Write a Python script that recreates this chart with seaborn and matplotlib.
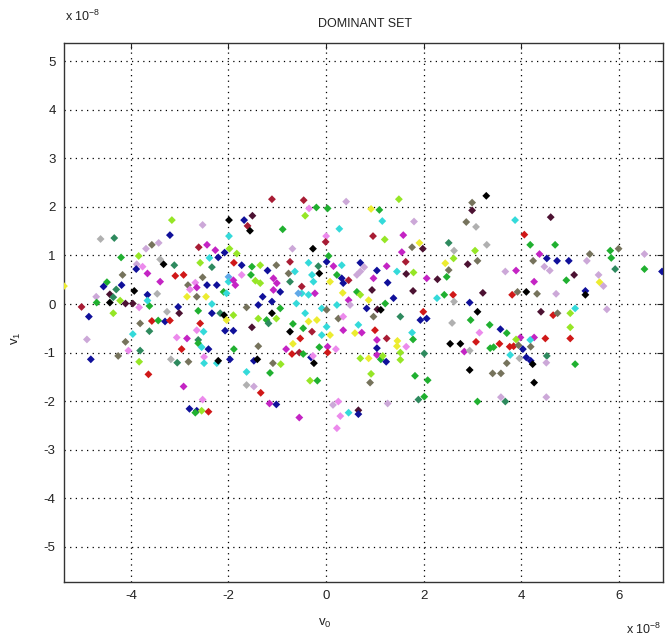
import matplotlib
matplotlib.use("Agg")
import matplotlib.pyplot as plt
import seaborn as sns
import pandas as pd

# values in units of 1e-8
v0 = [
 -3.16,-2.53,-1.99,-1.68,-1.51,-1.61,-1.56,-4.62,-4.34,-3.20,-1.99,-3.57,-3.43,-3.69,-2.61,-2.44,-2.27,-2.08,-1.98,-1.83,
 -1.11,-0.46,-0.35,-0.20,0.03,0.41,1.49,0.92,1.09,-0.43,1.15,1.80,-0.89,0.27,0.00,-0.01,0.96,1.20,1.58,1.91,1.76,1.98,2.51,2.62,-0.69,-0.27,1.55,
 3.28,2.99,2.99,2.87,3.07,3.87,4.60,4.06,4.18,4.69,4.37,3.05,3.29,5.40,5.82,5.99,6.52,5.84,
 -5.37,-4.20,-3.84,-3.88,-3.89,-3.76,-3.66,-3.40,-3.33,-3.11,-4.17,-4.49,-4.56,-4.19,-4.30,-4.71,-4.43,-4.36,-4.43,-4.22,
 -4.11,-3.96,-3.93,-4.70,-5.01,-4.86,-4.36,-3.83,-3.66,-3.46,-3.62,-3.66,-3.81,-3.57,-3.44,-3.30,-3.20,-3.26,-3.03,-3.01,
 -3.62,-3.96,-3.40,-3.09,-2.92,-2.83,-2.68,-2.65,-2.79,-2.53,-2.58,-2.39,-2.34,-2.21,-2.44,-2.24,-2.10,-2.04,-2.46,-2.65,
 -2.85,-2.34,-2.62,-2.34,-2.17,-2.09,-2.00,-2.00,-1.90,-1.86,-1.89,-1.73,-1.52,-1.35,-1.73,-1.54,-1.45,-1.35,-1.30,-1.63,
 -1.39,-1.39,-1.52,-2.07,-1.90,-1.90,-2.04,-2.58,-2.65,-2.51,-3.06,-2.85,-2.62,-4.90,-4.11,
 -0.74,-1.02,-1.20,-0.36,-0.16,0.01,0.05,0.15,0.32,0.70,0.78,0.70,1.04,1.24,1.63,2.44,2.61,2.51,1.45,1.64,1.79,2.06,2.28,2.47,
 -1.08,-1.01,-0.94,-1.08,-0.74,-0.77,-0.64,-0.50,-0.29,-0.26,-0.14,0.08,0.22,0.35,0.46,0.32,0.63,0.97,1.26,
 -0.50,-0.57,-0.36,-0.23,-1.11,-0.61,0.34,0.46,0.63,0.70,0.94,0.87,1.21,1.38,1.78,2.27,2.42,2.60,2.62,
 -0.09,0.01,0.22,0.49,0.83,1.05,1.12,0.97,0.25,0.35,1.99,1.93,2.06,1.52,2.58,
 -1.11,-0.94,-1.22,-1.18,-1.02,-0.43,-0.36,-0.19,-0.68,-0.47,-0.74,-0.29,0.01,-0.09,0.08,0.35,0.59,0.73,0.66,1.00,1.04,1.24,1.46,1.76,1.78,-0.53,2.54,2.75,
 2.90,3.10,3.67,3.89,4.52,4.24,4.73,4.97,4.47,4.58,5.34,5.92,6.52,6.88,4.26,4.92,5.08,5.58,5.60,5.68,
 3.21,3.81,3.92,4.10,4.32,4.71,5.31,5.31,2.94,3.10,2.96,3.35,3.14,3.57,3.70,4.40,4.65,4.74,5.00,5.10,5.75,5.00,
 3.07,3.98,3.89,4.26,4.18,4.49,5.00,3.55,
 -4.82,-4.26,-4.05,-3.81,-3.83,-3.64,-2.96,-3.18,-3.05,-2.82,-2.62,-2.55,-2.41,-2.50,-2.50,-2.24,-2.21,-1.97,-1.89,-1.48,-1.41,-1.39,
 -1.63,-1.63,-1.48,-1.34,-2.92,-2.53,-2.80,-2.65,-2.68,-2.55,-2.41,
 -0.82,-0.70,-0.68,-0.55,-0.47,-0.31,-0.27,-0.25,-0.14,0.03,0.03,0.20,-1.09,-0.93,-1.15,0.70,0.87,1.04,1.04,1.12,1.23,1.16,1.45,1.64,1.52,1.52,2.01,
 0.92,0.90,-0.33,-0.18,1.82,2.08,1.89,2.01,-1.16,-1.02,-0.55,0.14,0.25,0.29,0.46,0.66,0.66,0.22,1.26,
 2.83,2.94,3.36,3.43,3.76,3.84,3.94,4.03,4.19,3.77,3.96,4.10,4.19,4.23,4.52,4.51,3.70,2.94,3.41,3.58,4.26,5.10,3.10,3.58,3.67,4.51,
]
v1 = [
 1.73,1.63,1.73,1.73,1.82,1.61,1.51,1.34,1.36,1.42,1.40,1.22,1.26,1.14,1.17,1.22,1.11,1.06,1.14,1.04,
 2.16,2.14,1.97,1.99,1.97,2.11,2.16,1.96,1.94,1.82,1.71,1.70,1.54,1.55,1.40,1.28,1.40,1.33,1.42,1.26,1.17,1.14,1.26,1.10,1.14,1.14,1.07,
 2.23,2.09,1.93,1.69,1.59,1.73,1.79,1.43,1.22,1.22,1.03,1.10,1.22,1.03,1.10,1.14,1.03,0.95,
 0.37,0.96,0.99,0.82,0.72,0.77,0.63,0.92,0.82,0.80,0.60,0.45,0.36,0.39,0.30,0.15,0.20,0.14,0.03,0.07,
 0.01,0.01,0.27,0.03,-0.06,-0.26,-0.19,-0.07,0.19,0.21,-0.04,0.07,-0.40,-0.35,-0.34,-0.36,-0.34,-0.16,-0.06,-0.19,
 -0.56,-0.62,0.46,0.58,0.60,0.39,0.44,0.34,0.30,0.55,0.85,0.95,0.76,0.96,0.39,0.39,0.25,0.22,0.15,0.15,
 0.15,-0.19,-0.14,0.00,-0.19,-0.23,0.56,0.46,0.49,0.39,0.85,0.80,0.77,0.80,0.60,0.60,0.48,0.43,0.15,-0.07,
 -0.02,-0.30,-0.48,-0.55,-0.55,-0.23,-0.33,-0.40,-0.54,-0.57,-0.69,-0.71,-0.74,-0.73,-0.78,
 0.87,0.80,0.69,0.85,0.78,0.87,0.99,0.78,0.80,0.85,0.76,0.67,0.69,0.78,0.87,0.84,0.94,0.70,0.67,0.62,0.65,0.53,0.51,0.56,
 0.53,0.43,0.25,0.29,0.46,0.63,0.67,0.36,0.60,0.46,0.63,0.46,0.60,0.43,0.49,0.53,0.60,0.53,0.44,
 0.22,0.22,0.19,0.22,0.05,0.01,0.23,0.08,0.25,0.19,0.29,0.08,0.01,0.12,0.27,0.12,0.19,0.19,0.05,
 -0.09,-0.12,-0.02,-0.02,-0.09,-0.11,-0.12,-0.26,-0.30,-0.26,-0.16,-0.33,-0.30,-0.26,-0.39,
 -0.19,-0.09,-0.33,-0.40,-0.30,-0.19,-0.36,-0.33,-0.41,-0.50,-0.57,-0.57,-0.47,-0.64,-0.64,-0.54,-0.60,-0.59,-0.43,-0.54,-0.74,-0.71,-0.76,-0.59,-0.73,-0.71,-0.82,-0.82,
 0.82,0.89,0.67,0.69,0.94,0.89,0.89,0.89,0.77,0.69,0.89,0.72,0.72,0.67,0.46,0.49,0.60,0.60,0.45,0.37,
 0.23,0.19,0.25,0.25,0.21,0.21,0.27,0.19,0.03,-0.16,-0.33,-0.43,-0.59,-0.52,-0.60,-0.16,-0.23,-0.19,-0.19,-0.09,-0.11,-0.48,
 -0.78,-0.69,-0.73,-0.69,-0.74,-0.71,-0.71,-0.82,
 -1.14,-1.07,-0.96,-0.96,-1.19,-1.45,-0.93,-1.14,-1.21,-1.19,-0.81,-0.89,-0.93,-1.09,-1.22,-1.22,-1.17,-1.14,-0.93,-1.17,-1.14,-0.87,
 -1.40,-1.67,-1.70,-1.83,-1.70,-1.97,-2.16,-2.20,-2.24,-2.20,-2.22,
 -0.93,-1.03,-0.82,-1.00,-1.03,-1.10,-1.07,-1.22,-0.89,-0.88,-1.00,-0.93,-1.22,-1.24,-1.42,-1.12,-1.12,-1.05,-0.91,-1.14,-1.19,-1.07,-0.87,-0.88,-1.00,-1.15,-1.02,
 -1.44,-1.62,-1.58,-1.58,-1.48,-1.57,-1.97,-1.91,-2.05,-2.07,-2.34,-2.08,-2.01,-2.31,-2.24,-2.19,-2.27,-2.56,-2.05,
 -0.98,-0.96,-0.91,-0.89,-0.88,-0.87,-0.85,-0.93,-0.88,-1.05,-1.12,-1.10,-1.17,-1.24,-1.07,-1.21,-1.22,-1.36,-1.43,-1.43,-1.62,-1.24,-2.01,-1.92,-2.01,-1.92,
]
colour_key = [
 'l','lv','k','b','m','dr','k','gy','t','b','c','o','lv','lv','dr','mg','mg','b','l','l',
 'dr','dr','pk','g','g','lv','l','y','g','l','c','lv','g','c','pk','dr','dr','l','mg','y','o','m','t','gy','lv','k','mg',
 'k','o','m','o','gy','c','m','r','g','g','mg','l','gy','o','g','o','lv','g',
 'y','g','l','lv','b','pk','mg','gy','k','t','o','g','b','b','t','lv','m','t','k','l',
 'm','m','k','g','dr','b','l','pk','b','gy','g','c','o','r','g','b','r','gy','b','m',
 't','c','mg','r','r','o','pk','mg','pk','o','l','c','t','b','b','b','g','c','y','o',
 'y','b','g','c','t','k','lb','c','mg','mg','r','b','g','l','pk','g','l','l','b','o',
 'b','l','m','b','b','l','y','r','pk','c','pk','mg','t','lv','o',
 'dr','o','b','c','t','b','g','mg','c','b','lv','lv','b','mg','dr','y','l','o','c','m','l','mg','m','g',
 'mg','mg','b','mg','t','o','c','dr','c','c','k','y','g','b','dr','b','lv','mg','b',
 'c','lb','c','mg','b','c','y','mg','g','l','m','y','g','b','m','c','g','r','gy',
 'c','o','c','lv','b','m','k','o','o','pk','r','b','b','t','gy',
 'k','g','g','t','l','c','y','y','g','g','k','dr','c','c','y','mg','y','mg','c','r','mg','dr','y','c','g','r','k','k',
 'm','o','lv','mg','b','o','b','b','lv','lv','lv','t','g','b','mg','g','m','lv','y','lv',
 'm','r','o','k','o','lv','b','k','b','k','g','g','pk','b','g','m','r','o','l','c','lv','l',
 'r','mg','l','mg','c','r','r','r',
 'b','o','pk','t','l','r','r','gy','t','o','g','c','b','pk','c','c','k','b','g','b','k','o',
 'c','gy','lv','r','mg','pk','b','b','g','l','r',
 'mg','r','y','dr','g','b','pk','k','g','mg','r','pk','o','l','g','l','y','mg','b','g','b','l','y','pk','l','l','t',
 'l','o','l','g','g','g','t','g','mg','b','mg','lv','pk','pk','c','m','b','pk','lv',
 'mg','gy','g','g','r','r','o','b','o','c','gy','b','b','k','t','lv','o','k','o','o','k','g','g','lv','t','lv',
]
palette = {
 'b': '#10109a', 'r': '#d01818', 'dr': '#a81c34', 'm': '#4c1232', 'g': '#20b030',
 'l': '#96e626', 'y': '#ecec30', 'c': '#34dada', 't': '#2e8a5e', 'mg': '#c424c4',
 'pk': '#ec8aec', 'lv': '#cca8d8', 'o': '#76735c', 'gy': '#b0b0b0', 'k': '#000000',
 'lb': '#60a8e8',
}

assert len(v0) == len(v1) == len(colour_key), (len(v0), len(v1), len(colour_key))
df = pd.DataFrame({'v0': v0, 'v1': v1, 'col': colour_key})

sns.set_theme(style='white')
plt.rcParams['font.family'] = ['Liberation Sans', 'DejaVu Sans']
plt.rcParams['axes.unicode_minus'] = False
plt.rcParams['mathtext.fontset'] = 'custom'
plt.rcParams['mathtext.rm'] = 'Liberation Sans'

fig = plt.figure(figsize=(6.65, 6.39), dpi=100)
ax = fig.add_axes([0.0962, 0.0892, 0.9008, 0.8435])
sns.scatterplot(data=df, x='v0', y='v1', hue='col', palette=palette, marker='D',
                s=16, linewidth=0, legend=False, ax=ax, zorder=3)

ax.set_xlim(-5.37, 6.9)
ax.set_ylim(-5.73, 5.38)
ax.set_xticks([-4, -2, 0, 2, 4, 6])
ax.set_yticks([-5, -4, -3, -2, -1, 0, 1, 2, 3, 4, 5])
ax.grid(True, linestyle=(0, (1, 3.5)), color='black', linewidth=0.9)
ax.set_axisbelow(True)
for s in ax.spines.values():
    s.set_color('#333333')
    s.set_linewidth(1.0)
ax.tick_params(direction='in', top=True, right=True, length=4, width=0.8,
               labelsize=9.5, colors='#222222', pad=6)
ax.set_xlabel('')
ax.set_ylabel('')
fig.text(0.489, 0.025, r'v$_0$', fontsize=9.5, ha='center', va='center', color='#222222')
fig.text(0.025, 0.47, r'v$_1$', fontsize=9.5, ha='center', va='center', rotation=90, color='#222222')
fig.text(0.549, 0.962, 'DOMINANT SET', fontsize=9, ha='center', va='center', color='#222222')
fig.text(0.098, 0.975, r'x 10$^{-8}$', fontsize=9, ha='left', va='center', color='#222222')
fig.text(0.995, 0.015, r'x 10$^{-8}$', fontsize=9, ha='right', va='center', color='#222222')

fig.savefig('out.png', dpi=100)
